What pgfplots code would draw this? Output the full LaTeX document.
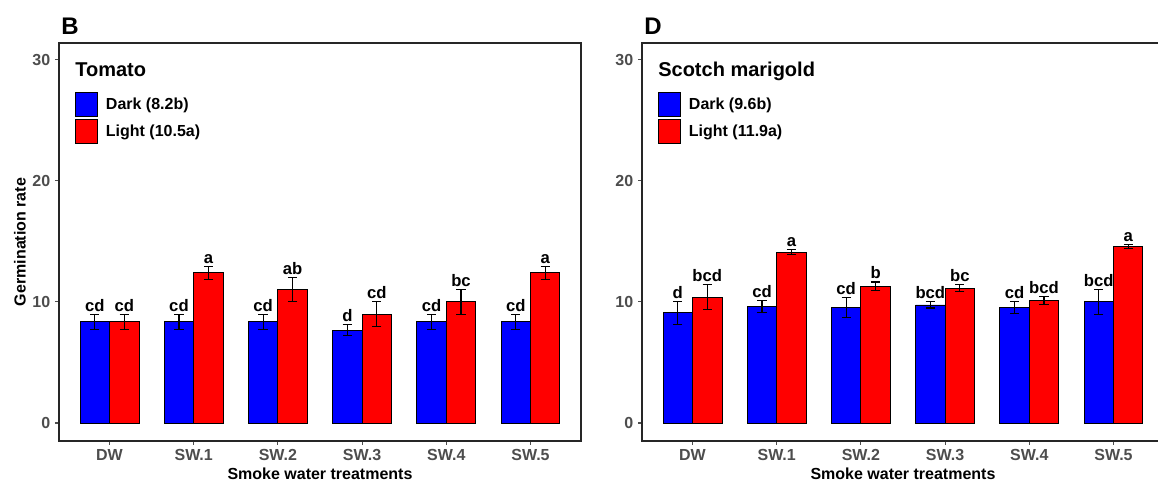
\documentclass[border=0pt]{standalone}
\usepackage{fontspec}
\setmainfont{Liberation Sans}
\usepackage{pgfplots}
\pgfplotsset{compat=1.18}
\usepackage{pgfplotstable}
\definecolor{gr30}{HTML}{4D4D4D}
\definecolor{barblue}{RGB}{0,0,255}
\definecolor{barred}{RGB}{255,0,0}

% germination rate, error (half bar), letter group
\pgfplotstableread{
x dark de dlab light le llab
1 8.35 0.6 cd 8.35 0.6 cd
2 8.35 0.6 cd 12.4 0.55 a
3 8.35 0.6 cd 11.0 1.0 ab
4 7.65 0.45 d 9.0 1.0 cd
5 8.35 0.6 cd 10.0 1.0 bc
6 8.35 0.6 cd 12.4 0.55 a
}\tomato

\pgfplotstableread{
x dark de dlab light le llab
1 9.1 0.95 d 10.4 1.05 bcd
2 9.65 0.5 cd 14.1 0.2 a
3 9.55 0.8 cd 11.3 0.35 b
4 9.75 0.25 bcd 11.15 0.3 bc
5 9.55 0.5 cd 10.1 0.33 bcd
6 10.0 1.0 bcd 14.6 0.18 a
}\marigold

\pgfplotsset{
  panel/.style={
    anchor=south west, clip=false,
    width=391.5pt, height=298.5pt, scale only axis,
    xmin=0.4, xmax=6.6, ymin=-1.49, ymax=31.4,
    xtick={1,...,6}, xticklabels={DW,SW.1,SW.2,SW.3,SW.4,SW.5},
    ytick={0,10,20,30},
    tick align=outside, tick pos=left, major tick length=3pt,
    tick style={gr30, line width=0.8pt},
    axis line style={line width=0.9pt, black!85},
    ticklabel style={font=\fontsize{12}{14}\selectfont\bfseries, text=gr30},
    /pgf/number format/assume math mode=true,
    xlabel={Smoke water treatments},
    xlabel style={at={(axis description cs:0.5,-0.083)}, anchor=center},
    label style={font=\fontsize{12}{14}\selectfont\bfseries},
    legend cell align=left,
    legend style={draw=none, fill=none, inner sep=0pt, outer sep=0pt,
      at={(0.0307,0.877)}, anchor=north west, row sep=1.5pt, column sep=5pt,
      nodes={inner sep=1pt},
      font=\fontsize{12}{14}\selectfont\bfseries},
  },
  barsty/.style={ybar, bar width=0.35, draw=black, line width=0.7pt,
    legend image code/.code={\draw[##1, draw=black, line width=0.7pt] (0pt,-9pt) rectangle (16.5pt,9pt);}},
  errsty/.style={draw=none, mark=none, forget plot,
    error bars/y dir=both, error bars/y explicit,
    error bars/error bar style={black, line width=0.8pt},
    error bars/error mark options={black, rotate=90, line width=0.8pt, mark size=3.5pt}},
  labsty/.style={draw=none, forget plot, nodes near coords, point meta=explicit symbolic,
    nodes near coords style={anchor=south, inner sep=2pt, text=black,
      font=\fontsize{12.5}{14}\selectfont\bfseries}},
}

\begin{document}
\begin{tikzpicture}
\begin{axis}[panel, at={(44.25pt,33.75pt)}, ylabel={Germination rate},
  ylabel style={at={(axis description cs:-0.075,0.5)}, anchor=center}]
\addplot[barsty, bar shift=-0.175, fill=barblue] table[x=x, y=dark] {\tomato};
\addplot[barsty, bar shift=0.175, fill=barred] table[x=x, y=light] {\tomato};
\addplot[errsty] table[x expr=\thisrow{x}-0.175, y=dark, y error=de] {\tomato};
\addplot[errsty] table[x expr=\thisrow{x}+0.175, y=light, y error=le] {\tomato};
\addplot[labsty] table[x expr=\thisrow{x}-0.175, y expr=\thisrow{dark}+\thisrow{de}, meta=dlab] {\tomato};
\addplot[labsty] table[x expr=\thisrow{x}+0.175, y expr=\thisrow{light}+\thisrow{le}, meta=llab] {\tomato};
\legend{Dark (8.2b), Light (10.5a)}
\node[anchor=base west, inner sep=0pt, font=\fontsize{15}{17}\selectfont\bfseries] at (axis description cs:0.0307,0.917) {Tomato};
\node[anchor=base west, inner sep=0pt, font=\fontsize{18}{20}\selectfont\bfseries] at (axis description cs:0.004,1.0226) {B};
\end{axis}
\begin{axis}[panel, at={(481.5pt,33.75pt)}]
\addplot[barsty, bar shift=-0.175, fill=barblue] table[x=x, y=dark] {\marigold};
\addplot[barsty, bar shift=0.175, fill=barred] table[x=x, y=light] {\marigold};
\addplot[errsty] table[x expr=\thisrow{x}-0.175, y=dark, y error=de] {\marigold};
\addplot[errsty] table[x expr=\thisrow{x}+0.175, y=light, y error=le] {\marigold};
\addplot[labsty] table[x expr=\thisrow{x}-0.175, y expr=\thisrow{dark}+\thisrow{de}, meta=dlab] {\marigold};
\addplot[labsty] table[x expr=\thisrow{x}+0.175, y expr=\thisrow{light}+\thisrow{le}, meta=llab] {\marigold};
\legend{Dark (9.6b), Light (11.9a)}
\node[anchor=base west, inner sep=0pt, font=\fontsize{15}{17}\selectfont\bfseries] at (axis description cs:0.0307,0.917) {Scotch marigold};
\node[anchor=base west, inner sep=0pt, font=\fontsize{18}{20}\selectfont\bfseries] at (axis description cs:0.004,1.0226) {D};
\end{axis}
\pgfresetboundingbox
\path (0pt,0pt) rectangle (868.5pt,364.5pt);
\end{tikzpicture}
\end{document}
